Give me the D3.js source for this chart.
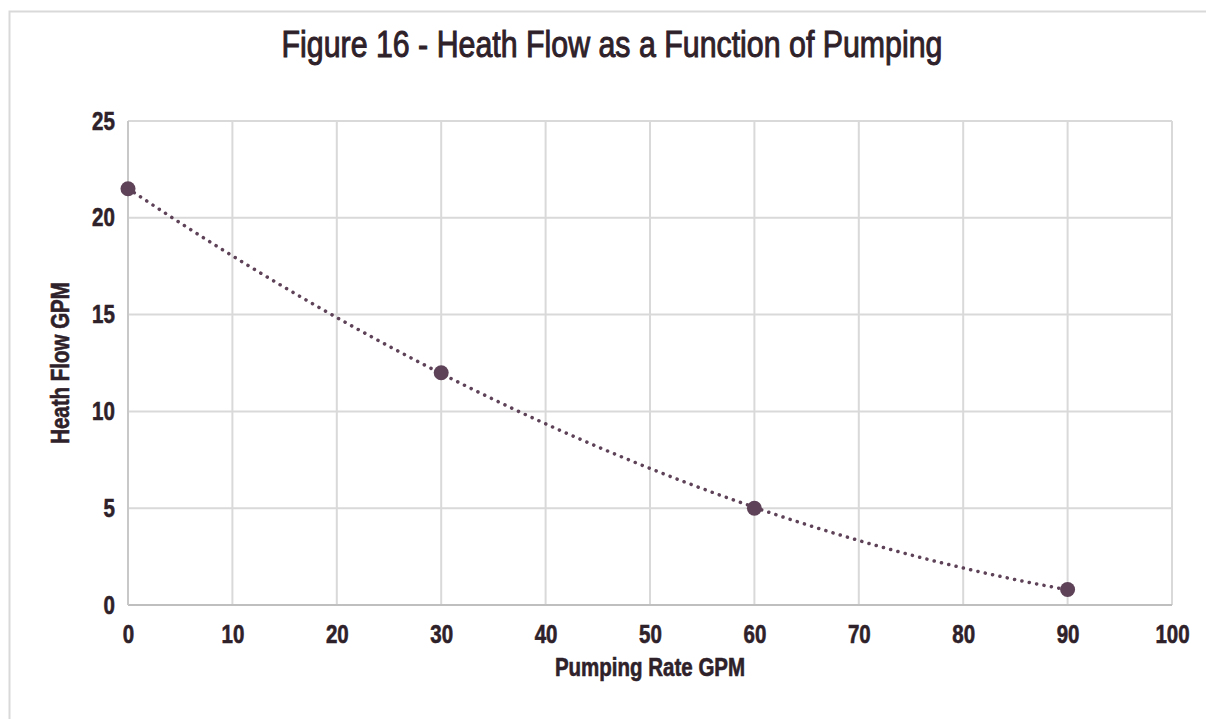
<!DOCTYPE html>
<html>
<head>
<meta charset="utf-8">
<script src="https://cdn.jsdelivr.net/npm/d3@7"></script>
<style>
  body { margin: 0; background: #fff; }
  text { font-family: "Liberation Sans Narrow", "Arial Narrow", "Liberation Sans", Arial, sans-serif; fill: #2e2129; }
</style>
</head>
<body>
<div id="chart"></div>
<script>
// Data
var pumping = [0, 30, 60, 90];
var heathFlow = [21.5, 12, 5, 0.8];
var xTicks = [0, 10, 20, 30, 40, 50, 60, 70, 80, 90, 100];
var yTicks = [0, 5, 10, 15, 20, 25];

var W = 1206, H = 719;
var margin = {top: 121, right: 34, bottom: 114, left: 128};
var width = W - margin.left - margin.right;
var height = H - margin.top - margin.bottom;

// the narrow face isn't always there, so squeeze the regular one
var squeeze = 0.82;

var svg = d3.select("#chart").append("svg")
    .attr("width", W)
    .attr("height", H);

// outer chart frame (only top/left visible in the picture)
svg.append("rect")
    .attr("x", 9.5).attr("y", 11.5)
    .attr("width", W + 20).attr("height", H + 20)
    .attr("fill", "none")
    .attr("stroke", "#d9d9d9")
    .attr("stroke-width", 2);

var g = svg.append("g")
    .attr("transform", "translate(" + margin.left + "," + margin.top + ")");

var x = d3.scaleLinear().domain([0, 100]).range([0, width]);
var y = d3.scaleLinear().domain([0, 25]).range([height, 0]);

// grid lines
g.selectAll("line.vGrid").data(xTicks).enter()
  .append("line")
    .attr("class", "vGrid")
    .attr("x1", function(d) { return x(d); })
    .attr("x2", function(d) { return x(d); })
    .attr("y1", 0).attr("y2", height)
    .attr("stroke", "#d9d9d9")
    .attr("stroke-width", 2);

g.selectAll("line.hGrid").data(yTicks).enter()
  .append("line")
    .attr("class", "hGrid")
    .attr("x1", 0).attr("x2", width)
    .attr("y1", function(d) { return y(d); })
    .attr("y2", function(d) { return y(d); })
    .attr("stroke", "#d9d9d9")
    .attr("stroke-width", 2);

// axis lines slightly darker
g.append("line")
    .attr("x1", 0).attr("x2", width)
    .attr("y1", y(0)).attr("y2", y(0))
    .attr("stroke", "#bfbfbf").attr("stroke-width", 2);
g.append("line")
    .attr("x1", x(0)).attr("x2", x(0))
    .attr("y1", 0).attr("y2", height)
    .attr("stroke", "#c8c8c8").attr("stroke-width", 2);

// axes (labels only)
var xAxis = g.append("g")
    .attr("transform", "translate(0," + height + ")")
    .call(d3.axisBottom(x).tickValues(xTicks).tickSize(0).tickPadding(14));
var yAxis = g.append("g")
    .call(d3.axisLeft(y).tickValues(yTicks).tickSize(0).tickPadding(16));

[xAxis, yAxis].forEach(function(a) {
  a.select(".domain").remove();
  a.selectAll("text")
    .attr("font-family", null)
    .attr("transform", "scale(" + squeeze + ",1)")
    .style("font-size", "25px")
    .style("font-weight", "bold")
    .style("stroke", "#2e2129")
    .style("stroke-width", 0.6)
    .style("fill", "#2e2129");
});
xAxis.selectAll("text").attr("dy", "0.95em");

// polynomial (order 2) trendline fitted to the data, like the spreadsheet's
function quadFit(xs, ys) {
  var n = xs.length, s = [0, 0, 0, 0, 0], t = [0, 0, 0];
  for (var i = 0; i < n; i++) {
    var p = 1;
    for (var k = 0; k < 5; k++) { s[k] += p; if (k < 3) t[k] += p * ys[i]; p *= xs[i]; }
  }
  var A = [[s[0], s[1], s[2], t[0]], [s[1], s[2], s[3], t[1]], [s[2], s[3], s[4], t[2]]];
  for (var c = 0; c < 3; c++) {
    for (var r = c + 1; r < 3; r++) {
      var f = A[r][c] / A[c][c];
      for (var j = c; j < 4; j++) A[r][j] -= f * A[c][j];
    }
  }
  var co = [0, 0, 0];
  for (var r2 = 2; r2 >= 0; r2--) {
    var v = A[r2][3];
    for (var j2 = r2 + 1; j2 < 3; j2++) v -= A[r2][j2] * co[j2];
    co[r2] = v / A[r2][r2];
  }
  return function(xv) { return co[0] + co[1] * xv + co[2] * xv * xv; };
}
var trend = quadFit(pumping, heathFlow);
var trendX = d3.range(pumping[0], pumping[pumping.length - 1] + 0.5, 1);

g.append("path")
    .datum(trendX)
    .attr("fill", "none")
    .attr("stroke", "#5e4258")
    .attr("stroke-width", 3.5)
    .attr("stroke-linecap", "round")
    .attr("stroke-dasharray", "0.1 7.4")
    .attr("d", d3.line()
        .x(function(d) { return x(d); })
        .y(function(d) { return y(trend(d)); }));

// data markers
g.selectAll("circle.pt").data(pumping).enter()
  .append("circle")
    .attr("class", "pt")
    .attr("cx", function(d) { return x(d); })
    .attr("cy", function(d, i) { return y(heathFlow[i]); })
    .attr("r", 7.5)
    .attr("fill", "#5e4258");

// titles
svg.append("g")
    .attr("transform", "translate(612,57) scale(" + squeeze + ",1)")
  .append("text")
    .attr("text-anchor", "middle")
    .style("font-size", "37px")
    .style("stroke", "#2e2129")
    .style("stroke-width", 1)
    .text("Figure 16 - Heath Flow as a Function of Pumping");

svg.append("g")
    .attr("transform", "translate(" + (margin.left + width / 2) + ",676) scale(" + squeeze + ",1)")
  .append("text")
    .attr("text-anchor", "middle")
    .style("font-size", "25px")
    .style("font-weight", "bold")
    .style("stroke", "#2e2129")
    .style("stroke-width", 0.6)
    .text("Pumping Rate GPM");

svg.append("g")
    .attr("transform", "translate(69," + (margin.top + height / 2) + ") rotate(-90) scale(" + squeeze + ",1)")
  .append("text")
    .attr("text-anchor", "middle")
    .style("font-size", "25px")
    .style("font-weight", "bold")
    .style("stroke", "#2e2129")
    .style("stroke-width", 0.6)
    .text("Heath Flow GPM");
</script>
</body>
</html>
